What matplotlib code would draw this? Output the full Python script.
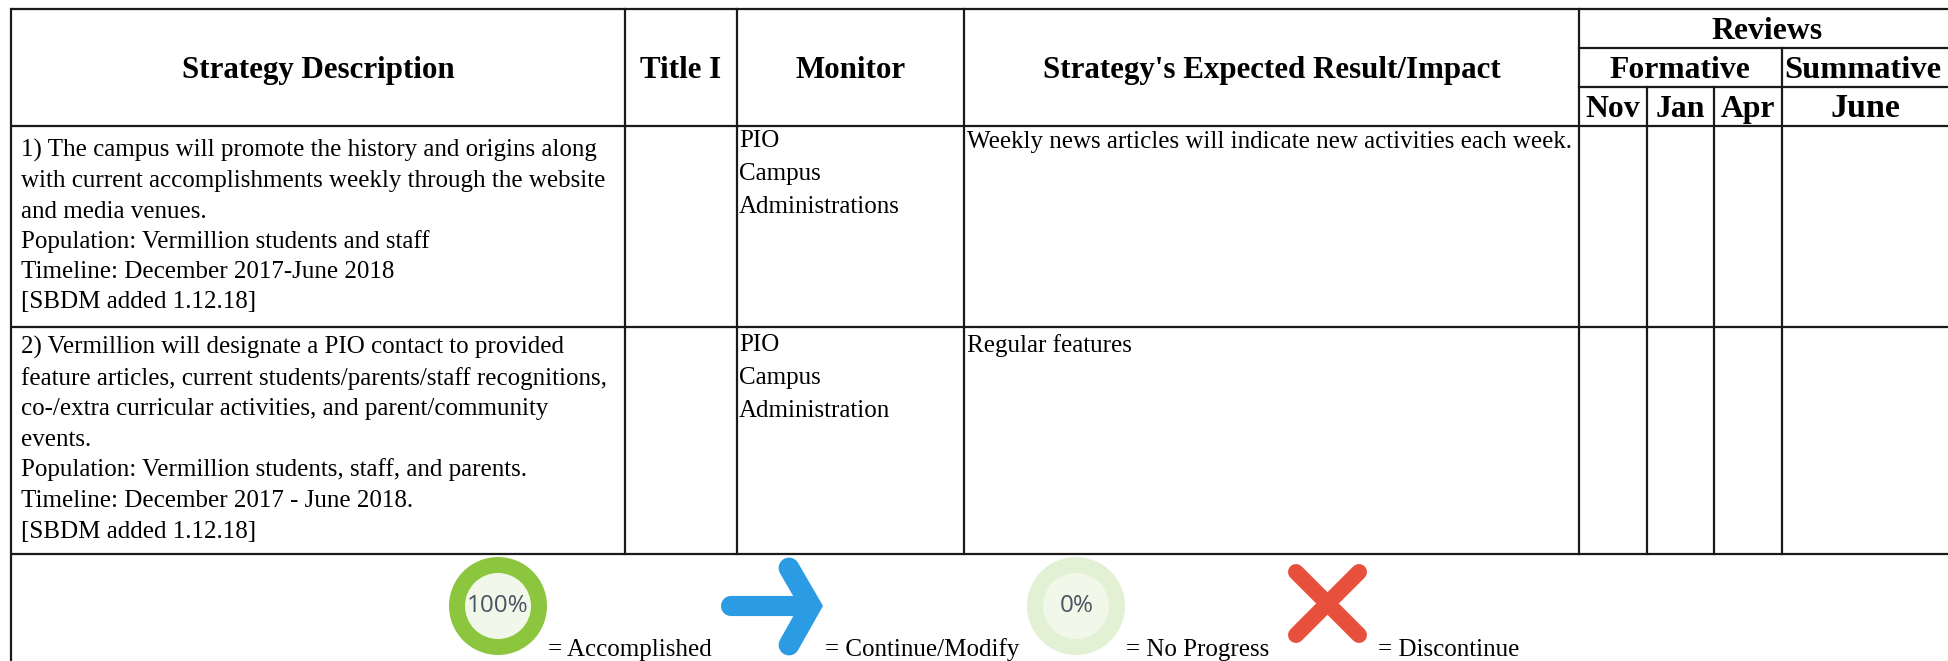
import matplotlib
matplotlib.use('Agg')
import matplotlib.pyplot as plt
from matplotlib.patches import Circle

# table layout, pixels
col_x = [11, 625, 737, 964, 1579, 1647, 1714, 1782, 1948]
row_y = [9, 48, 87, 126, 327, 554, 661]

headers = ['Strategy Description', 'Title I', 'Monitor', "Strategy's Expected Result/Impact"]
review_title = 'Reviews'
review_groups = ['Formative', 'Summative']
review_months = ['Nov', 'Jan', 'Apr', 'June']

strategy_1 = ['1) The campus will promote the history and origins along',
              'with current accomplishments weekly through the website',
              'and media venues.',
              'Population: Vermillion students and staff',
              'Timeline: December 2017-June 2018',
              '[SBDM added 1.12.18]']
strategy_2 = ['2) Vermillion will designate a PIO contact to provided',
              'feature articles, current students/parents/staff recognitions,',
              'co-/extra curricular activities, and parent/community',
              'events.',
              'Population: Vermillion students, staff, and parents.',
              'Timeline: December 2017 - June 2018.',
              '[SBDM added 1.12.18]']
monitor_1 = ['PIO', 'Campus', 'Administrations']
monitor_2 = ['PIO', 'Campus', 'Administration']
result_1 = 'Weekly news articles will indicate new activities each week.'
result_2 = 'Regular features'

legend_labels = ['= Accomplished', '= Continue/Modify', '= No Progress', '= Discontinue']
legend_x = [548, 825, 1126, 1378]

plt.rcParams['font.family'] = ['Liberation Serif', 'DejaVu Sans']

fig = plt.figure(figsize=(19.48, 6.61), dpi=100)
ax = fig.add_axes([0, 0, 1, 1])
ax.set_xlim(0, 1948)
ax.set_ylim(661, 0)
ax.axis('off')

line_c = '#1a1a1a'
lw = 1.6

# grid lines
for y in [row_y[0], row_y[3], row_y[4], row_y[5]]:
    ax.plot([col_x[0], col_x[-1]], [y, y], color=line_c, lw=lw, solid_capstyle='butt')
ax.plot([col_x[4], col_x[-1]], [row_y[1], row_y[1]], color=line_c, lw=lw)
ax.plot([col_x[4], col_x[-1]], [row_y[2], row_y[2]], color=line_c, lw=lw)
ax.plot([col_x[0], col_x[0]], [row_y[0], row_y[6]], color=line_c, lw=lw)
for x in col_x[1:5]:
    ax.plot([x, x], [row_y[0], row_y[5]], color=line_c, lw=lw)
ax.plot([col_x[7], col_x[7]], [row_y[1], row_y[5]], color=line_c, lw=lw)
ax.plot([col_x[5], col_x[5]], [row_y[2], row_y[5]], color=line_c, lw=lw)
ax.plot([col_x[6], col_x[6]], [row_y[2], row_y[5]], color=line_c, lw=lw)

# header text
hdr_size = 22.3
review_size = 22.8
for i, h in enumerate(headers):
    ax.text((col_x[i] + col_x[i + 1]) / 2, 78, h, fontsize=hdr_size, fontweight='bold',
            ha='center', va='baseline')
ax.text((col_x[4] + col_x[8]) / 2 + 3, 39, review_title, fontsize=review_size, fontweight='bold',
        ha='center', va='baseline')
ax.text((col_x[4] + col_x[7]) / 2 - 1, 78, review_groups[0], fontsize=review_size, fontweight='bold',
        ha='center', va='baseline')
ax.text((col_x[7] + col_x[8]) / 2 - 2, 78, review_groups[1], fontsize=23.4, fontweight='bold',
        ha='center', va='baseline')
for i, m in enumerate(review_months):
    ax.text((col_x[4 + i] + col_x[5 + i]) / 2, 117, m,
            fontsize=24.5 if m == 'June' else review_size, fontweight='bold',
            ha='center', va='baseline')

# body text
body_size = 18
for i, s in enumerate(strategy_1):
    ax.text(21, 157 + i * 30.3, s, fontsize=body_size, va='baseline')
for i, s in enumerate(strategy_2):
    ax.text(21, 354 + i * 30.6, s, fontsize=body_size, va='baseline')
for i, s in enumerate(monitor_1):
    ax.text(739, 147 + i * 33, s, fontsize=body_size, va='baseline')
for i, s in enumerate(monitor_2):
    ax.text(739, 351 + i * 33, s, fontsize=body_size, va='baseline')
ax.text(967, 148, result_1, fontsize=body_size, va='baseline')
ax.text(967, 352, result_2, fontsize=body_size, va='baseline')

# legend text
for x, s in zip(legend_x, legend_labels):
    ax.text(x, 656, s, fontsize=body_size, va='baseline')

# legend icons
ax.add_patch(Circle((498, 606), 49, color='#8cc63f', lw=0))
ax.add_patch(Circle((498, 606), 33, color='#f1f8ea', lw=0))
ax.text(498, 606, '100%', fontsize=17.5, family='Open Sans', color='#4a5462', ha='center', va='center')

ax.add_patch(Circle((1076, 606), 49, color='#e2f0d3', lw=0))
ax.add_patch(Circle((1076, 606), 33, color='#f1f8ea', lw=0))
ax.text(1077, 606, '0%', fontsize=17.5, family='Open Sans', color='#4a5462', ha='center', va='center')

arrow_c = '#2b9be3'
ax.plot([731, 808], [606, 606], color=arrow_c, lw=14.5, solid_capstyle='round')
ax.plot([789, 811, 789], [568, 606, 645], color=arrow_c, lw=15, solid_capstyle='round',
        solid_joinstyle='miter')

x_c = '#e8503e'
x_w = 11.5
ax.plot([1296, 1359], [572, 635], color=x_c, lw=x_w, solid_capstyle='round')
ax.plot([1296, 1359], [635, 572], color=x_c, lw=x_w, solid_capstyle='round')

fig.savefig('out.png', dpi=100)
